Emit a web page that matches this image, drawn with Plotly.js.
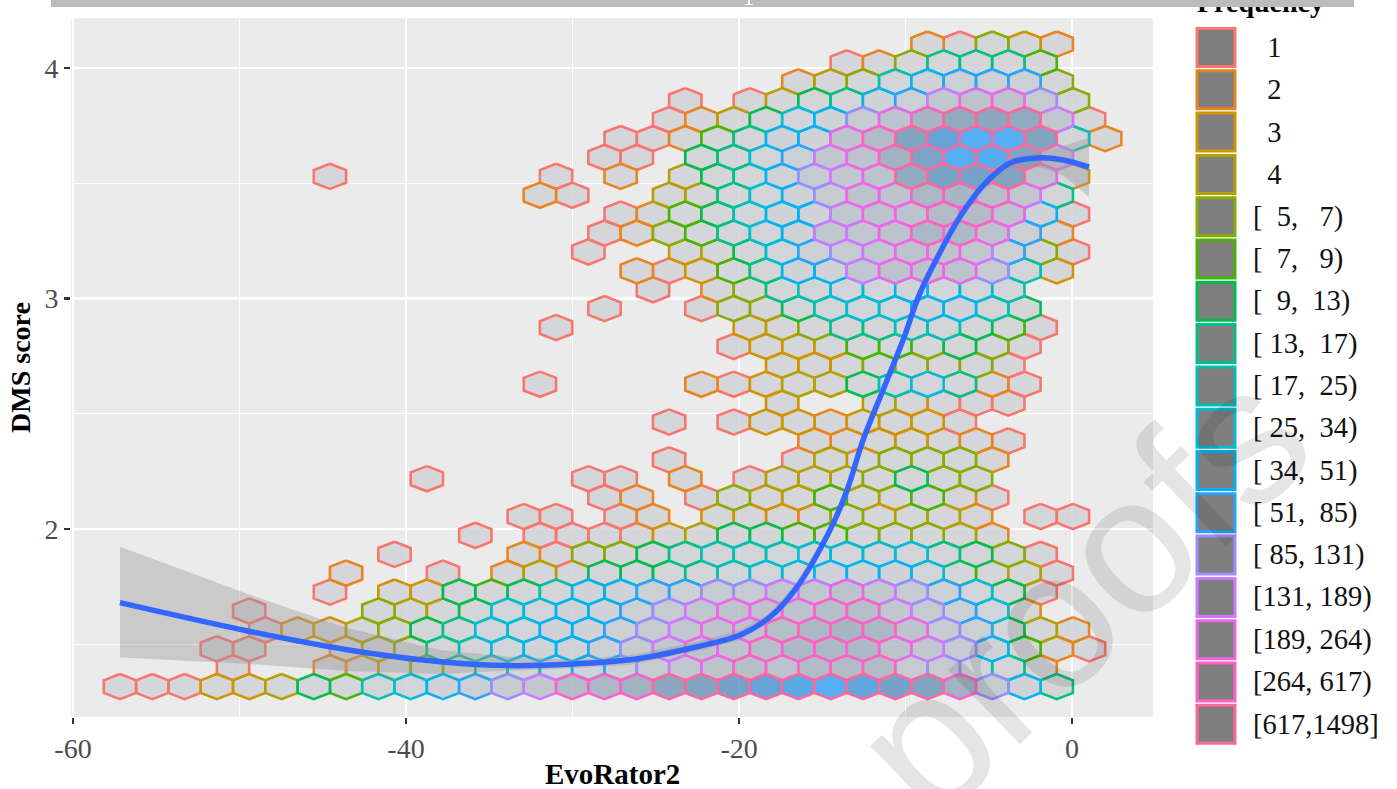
<!DOCTYPE html>
<html>
<head>
<meta charset="utf-8">
<script src="https://cdn.plot.ly/plotly-3.0.1.min.js"></script>
<style>
html,body{margin:0;padding:0;background:#fff;overflow:hidden}
#chart{width:1397px;height:789px}
#strip{position:absolute;left:51px;top:0;width:1303px;height:7px;background:#bbbbbb}
#mark1{position:absolute;left:748px;top:0;width:2px;height:4px;background:#fff}
#mark2{position:absolute;left:745px;top:4px;width:8px;height:1px;background:#fff}
</style>
</head>
<body>
<div id="chart"></div>
<div id="strip"></div><div id="mark1"></div><div id="mark2"></div>
<script>
// ---------- frequency bins and legend ----------
const binEdges = [1,2,3,4,5,7,9,13,17,25,34,51,85,131,189,264,617];
const binColors = ['#F8766D','#E7851E','#D09400','#B2A100','#89AC00','#45B500','#00BC51','#00C087','#00C0B2','#00BCD6','#00B3F2','#29A3FF','#9C8DFF','#D277FF','#F166E8','#FF61C7','#FF689E'];
const nb = '\u00a0';
const legendLabels = [nb+nb+'1',nb+nb+'2',nb+nb+'3',nb+nb+'4',
 '['+nb+nb+'5,'+nb+nb+nb+'7)','['+nb+nb+'7,'+nb+nb+nb+'9)','['+nb+nb+'9,'+nb+nb+'13)',
 '['+nb+'13,'+nb+nb+'17)','['+nb+'17,'+nb+nb+'25)','['+nb+'25,'+nb+nb+'34)','['+nb+'34,'+nb+nb+'51)',
 '['+nb+'51,'+nb+nb+'85)','['+nb+'85,'+nb+'131)','[131,'+nb+'189)','[189,'+nb+'264)','[264,'+nb+'617)','[617,1498]'];

// ---------- estimated counts per hexagon cell, row by row, starting at column hexRowStart ----------
const hexRowStart = [0,3,3,4,4,6,7,8,11,12,15,9,17,21,17,20,13,20,19,13,15,16,16,14,15,15,13,6,15,15,17,17,21,22,25];
const hexRow0  = [1,1,1,3,3,4,11,8,21,30,42,68,108,160,350,420,500,800,850,950,1100,1200,1300,1150,950,850,500,108,42,15];
const hexRow1  = [1,0,0,2,2,3,6,6,11,21,30,42,68,108,160,226,300,226,350,350,350,108,108,21,15,2];
const hexRow2  = [1,1,0,0,1,4,6,15,21,30,42,42,68,108,160,226,226,300,400,400,400,226,160,108,42,8,2,1];
const hexRow3  = [1,3,3,4,6,11,15,30,30,42,42,68,108,160,226,226,300,400,450,400,226,108,68,11,4,2];
const hexRow4  = [1,0,0,0,6,4,4,11,30,30,42,42,68,108,160,226,226,226,300,300,160,108,68,30,2];
const hexRow5  = [1,0,3,3,11,8,11,21,42,42,68,68,108,108,160,160,226,160,108,68,30,11,1];
const hexRow6  = [2,0,0,1,0,2,4,1,11,11,11,15,21,30,30,42,42,42,30,8,3,4,1];
const hexRow7  = [1,0,0,0,2,1,6,6,11,15,21,21,21,30,30,30,30,15,11,6,1];
const hexRow8  = [1,0,1,1,1,1,3,4,11,11,8,8,6,6,6,4,2];
const hexRow9  = [1,1,0,1,2,0,3,3,2,1,6,3,4,4,2,0,1,1];
const hexRow10 = [1,2,0,1,6,3,3,8,4,3,8,3,1];
const hexRow11 = [1,0,0,0,0,1,1,0,2,0,1,4,4,4,6,11,6,6];
const hexRow12 = [1,0,0,0,1,4,2,6,6,6,2];
const hexRow13 = [2,1,3,3,1,2,1];
const hexRow14 = [1,0,1,3,3,2,3,3,3,1];
const hexRow15 = [3,0,0,4,3,1,1,1];
const hexRow16 = [1,0,0,0,0,2,1,3,4,4,11,21,30,15,2,1];
const hexRow17 = [3,3,3,6,6,2,6,1];
const hexRow18 = [1,3,2,3,8,8,6,11,6,1];
const hexRow19 = [1,0,0,0,0,0,3,4,6,15,15,21,21,11,8,1];
const hexRow20 = [1,0,0,1,6,4,11,21,30,30,42,42,21,11];
const hexRow21 = [1,0,2,6,15,21,30,30,42,30,30,21];
const hexRow22 = [2,1,3,8,15,42,42,160,226,226,226,108,21,3];
const hexRow23 = [1,0,0,3,4,11,30,68,108,160,226,226,160,68,6,1];
const hexRow24 = [1,2,6,8,15,30,42,160,160,226,420,400,226,68,2];
const hexRow25 = [1,2,8,11,21,42,42,160,226,226,350,350,226,42,1];
const hexRow26 = [2,1,0,0,4,3,15,30,42,108,226,226,420,450,300,160,15];
const hexRow27 = [1,0,0,0,0,0,0,1,0,2,0,4,11,15,42,108,160,226,700,930,950,850,226,3];
const hexRow28 = [1,1,0,11,15,30,68,160,226,500,900,1300,1250,850,160];
const hexRow29 = [1,1,2,8,15,42,42,226,350,850,1100,1498,1350,850,21,2];
const hexRow30 = [1,2,4,11,30,42,108,226,450,700,800,700,160,1];
const hexRow31 = [1,0,1,4,11,15,42,68,160,226,226,108,6];
const hexRow32 = [2,4,6,21,42,68,68,68,6];
const hexRow33 = [1,2,6,15,15,15,8];
const hexRow34 = [2,1,6,3,2];
const hexRows = [hexRow0,hexRow1,hexRow2,hexRow3,hexRow4,hexRow5,hexRow6,hexRow7,hexRow8,hexRow9,hexRow10,hexRow11,hexRow12,hexRow13,hexRow14,hexRow15,hexRow16,hexRow17,hexRow18,hexRow19,hexRow20,hexRow21,hexRow22,hexRow23,hexRow24,hexRow25,hexRow26,hexRow27,hexRow28,hexRow29,hexRow30,hexRow31,hexRow32,hexRow33,hexRow34];

// ---------- smooth curve and its confidence band ----------
const fitX = [-57.18,-49.37,-43.54,-37.96,-33.75,-29.97,-26.55,-22.52,-19.94,-18.14,-16.52,-14.53,-13.51,-12.55,-11.35,-10.15,-9.13,-7.75,-6.73,-5.35,-3.72,-2.1,-0.54,1.02];
const fitY = [1.680,1.555,1.476,1.424,1.407,1.414,1.432,1.489,1.540,1.618,1.748,1.996,2.169,2.386,2.603,2.820,3.024,3.225,3.355,3.490,3.588,3.610,3.601,3.570];
const fitUpper = [1.923,1.714,1.570,1.475,1.445,1.432,1.453,1.510,1.562,1.635,1.770,2.015,2.187,2.404,2.620,2.838,3.042,3.243,3.374,3.510,3.610,3.635,3.660,3.700];
const fitLower = [1.442,1.414,1.384,1.371,1.385,1.396,1.410,1.470,1.518,1.600,1.726,1.977,2.150,2.368,2.585,2.800,3.006,3.207,3.336,3.470,3.566,3.572,3.535,3.440];

// ---------- axes ----------
const xTickVals = [-60,-40,-20,0];
const xTickText = ['-60','-40','-20','0'];
const yTickVals = [2,3,4];
const yTickText = ['2','3','4'];

// ---------- hex lattice (data units) ----------
const hexX0 = -57.18, hexDx = 1.94, hexY0 = 1.316, hexDy = 0.082;
const hexHalfW = 0.97, hexHalfH = 0.0547;

// fill ramp: shown colour as a function of count
const rampAt  = [1,42,108,226,350,500,800,950,1100,1200,1300,1498];
const rampRGB = [[213,214,218],[207,211,215],[198,203,210],[188,195,204],[178,187,198],[163,178,193],[139,166,190],[116,162,201],[102,163,214],[91,170,230],[86,174,240],[85,176,246]];
const fillAlpha = 0.85;
function fillFor(f){
  let i = 0; while(i < rampAt.length-2 && f > rampAt[i+1]) i++;
  const t = Math.min(1,(f-rampAt[i])/(rampAt[i+1]-rampAt[i]));
  const c = rampRGB[i].map((v,n)=> v+(rampRGB[i+1][n]-v)*t);
  const s = c.map(v=> Math.max(0,Math.round((v-(1-fillAlpha)*235)/fillAlpha)));
  return `rgba(${s[0]},${s[1]},${s[2]},${fillAlpha})`;
}
function binOf(f){ let b = 0; binEdges.forEach((e,i)=>{ if(f>=e) b=i; }); return b; }

const groups = new Map();
hexRows.forEach((row,j)=>{
  row.forEach((f,i)=>{
    if(!f) return;
    const k = hexRowStart[j]+i;
    const cx = hexX0 + hexDx*k + (j%2 ? hexDx/2 : 0);
    const cy = hexY0 + hexDy*j;
    if(!groups.has(f)) groups.set(f,{x:[],y:[]});
    const g = groups.get(f);
    g.x.push(cx,cx+hexHalfW,cx+hexHalfW,cx,cx-hexHalfW,cx-hexHalfW,cx,null);
    g.y.push(cy+hexHalfH,cy+hexHalfH/2,cy-hexHalfH/2,cy-hexHalfH,cy-hexHalfH/2,cy+hexHalfH/2,cy+hexHalfH,null);
  });
});
const traces = [...groups.keys()].sort((a,b)=>a-b).map(f=>({
  type:'scatter', mode:'lines', x:groups.get(f).x, y:groups.get(f).y,
  fill:'toself', fillcolor:fillFor(f), line:{color:binColors[binOf(f)],width:2.6},
  hoverinfo:'skip', showlegend:false
}));
traces.push({type:'scatter',mode:'lines',x:fitX.concat(fitX.slice().reverse()),y:fitUpper.concat(fitLower.slice().reverse()),
  fill:'toself',fillcolor:'rgba(153,153,153,0.4)',line:{width:0,color:'rgba(0,0,0,0)'},hoverinfo:'skip',showlegend:false});
traces.push({type:'scatter',mode:'lines',x:fitX,y:fitY,line:{color:'#3366FF',width:5.5,shape:'spline',smoothing:1},hoverinfo:'skip',showlegend:false});

// page pixels -> paper fractions, for the hand-laid legend
const pL=71,pR=1153,pT=18,pB=717;
const px = v => (v-pL)/(pR-pL);
const py = v => (pB-v)/(pB-pT);
const serif = '"Liberation Serif","Times New Roman",serif';
const shapes = [], annotations = [];
legendLabels.forEach((lab,i)=>{
  const top = 28.5+42.3*i;
  shapes.push({type:'rect',xref:'paper',yref:'paper',x0:px(1197),x1:px(1235),y0:py(top+38),y1:py(top),
    fillcolor:'#7F7F7F',line:{color:binColors[i],width:3}});
  annotations.push({xref:'paper',yref:'paper',x:px(1252),y:py(top+19),xanchor:'left',yanchor:'middle',showarrow:false,
    text:lab,font:{family:serif,size:28.5,color:'#111'},borderpad:0});
});
annotations.push({xref:'paper',yref:'paper',x:px(1196),y:py(19),xanchor:'left',yanchor:'bottom',showarrow:false,
  text:'Frequency',font:{family:serif,size:28,color:'#000',weight:700},borderpad:0});
annotations.push({xref:'paper',yref:'paper',x:px(612.5),y:py(774),xanchor:'center',yanchor:'middle',showarrow:false,
  text:'EvoRator2',font:{family:serif,size:29,color:'#000',weight:700},borderpad:0});
annotations.push({xref:'paper',yref:'paper',x:px(1080),y:py(592),xanchor:'center',yanchor:'middle',showarrow:false,
  text:'proofs',textangle:-44,font:{family:'"Liberation Sans",Arial,sans-serif',size:195,color:'rgba(0,0,0,0.1)'},borderpad:0});

const layout = {
  width:1397,height:789,paper_bgcolor:'#fff',plot_bgcolor:'#EBEBEB',showlegend:false,
  margin:{l:pL,r:1397-pR,t:pT,b:789-pB,pad:0},
  xaxis:{range:[-60.12,4.86],tickmode:'array',tickvals:xTickVals,ticktext:xTickText,ticks:'outside',ticklen:6,tickwidth:2.5,tickcolor:'#333',
    tickfont:{family:serif,size:28,color:'#4D4D4D'},showgrid:true,gridcolor:'#fff',gridwidth:2.6,zeroline:false,showline:false,
    minor:{tickmode:'array',tickvals:[-50,-30,-10],showgrid:true,gridcolor:'#fff',gridwidth:1.3,ticks:''}},
  yaxis:{range:[1.184,4.217],tickmode:'array',tickvals:yTickVals,ticktext:yTickText,ticks:'outside',ticklen:6,tickwidth:2.5,tickcolor:'#333',
    tickfont:{family:serif,size:28,color:'#4D4D4D'},showgrid:true,gridcolor:'#fff',gridwidth:2.6,zeroline:false,showline:false,
    minor:{tickmode:'array',tickvals:[1.5,2.5,3.5],showgrid:true,gridcolor:'#fff',gridwidth:1.3,ticks:''},
    title:{text:'DMS score',font:{family:serif,size:28,color:'#000',weight:700},standoff:5}},
  shapes,annotations
};
Plotly.newPlot('chart',traces,layout,{staticPlot:true,displayModeBar:false});
</script>
</body>
</html>
